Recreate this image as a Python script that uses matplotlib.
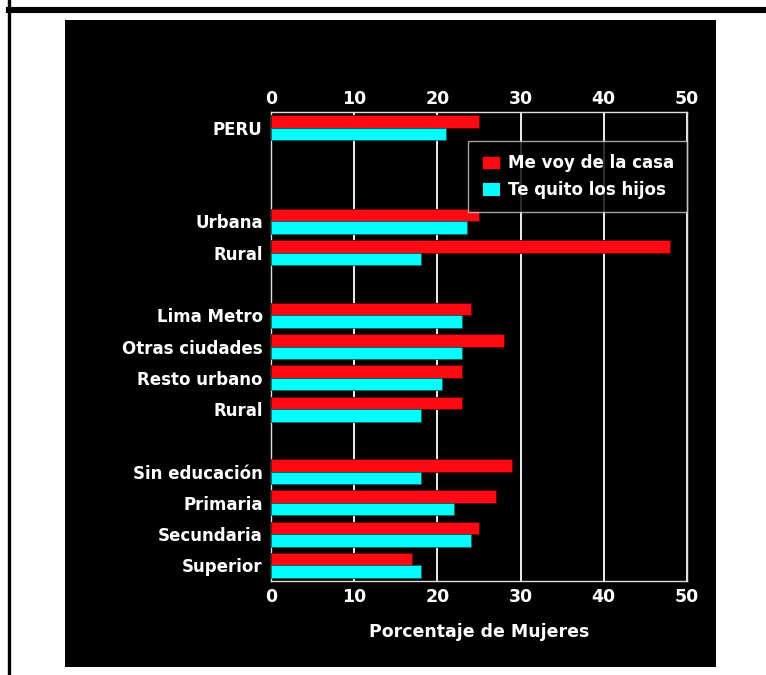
import numpy as np
import matplotlib.pyplot as plt
from matplotlib.patches import Rectangle
from matplotlib.lines import Line2D

# Data
categories = ["PERU", "", "", "Urbana", "Rural", "",
              "Lima Metro", "Otras ciudades", "Resto urbano", "Rural", "",
              "Sin educación", "Primaria", "Secundaria", "Superior"]
me_voy = [25, None, None, 25, 48, None, 24, 28, 23, 23, None, 29, 27, 25, 17]
te_quito = [21, None, None, 23.5, 18, None, 23, 23, 20.5, 18, None, 18, 22, 24, 18]
series_names = ["Me voy de la casa", "Te quito los hijos"]
colors = ["#ff0a14", "#00ffff"]
xticks = [0, 10, 20, 30, 40, 50]

# wide bold face to get close to the stretched Helvetica of the original
plt.rcParams['font.family'] = ['DejaVu Sans']

fig = plt.figure(figsize=(7.66, 6.75), dpi=100)
fig.patch.set_facecolor("white")

W, H = 766, 675
# black panel
fig.patches.append(Rectangle((65 / W, 1 - 667 / H), 651 / W, 647 / H,
                             transform=fig.transFigure, facecolor="black",
                             edgecolor="none", zorder=-5))
# frame lines
fig.add_artist(Line2D([8.5 / W, 8.5 / W], [0, 1], transform=fig.transFigure,
                      color="black", linewidth=2.4))
fig.add_artist(Line2D([8.5 / W, 1], [1 - 9.8 / H, 1 - 9.8 / H],
                      transform=fig.transFigure, color="black", linewidth=4.4))

ax = fig.add_axes([271 / W, 1 - 581 / H, 416 / W, 469 / H])
ax.set_zorder(5)
ax.set_facecolor("black")

y = np.arange(len(categories))
bh = 0.4
for i in range(len(categories)):
    if me_voy[i] is not None:
        ax.barh(y[i] - bh / 2, me_voy[i], height=bh, color=colors[0],
                edgecolor="#600000", linewidth=0.6, zorder=3)
        ax.barh(y[i] + bh / 2, te_quito[i], height=bh, color=colors[1],
                edgecolor="#006060", linewidth=0.6, zorder=3)

ax.set_xlim(0, 50)
ax.set_ylim(len(categories) - 0.5, -0.5)
ax.set_xticks(xticks)
ax.set_xticklabels([str(t) for t in xticks])
ax.set_yticks(y)
ax.set_yticklabels(categories)

ax.tick_params(axis="x", length=0, pad=5, colors="white", labelsize=12.5)
ax.tick_params(axis="y", length=0, pad=6, colors="white", labelsize=12)
for lab in ax.get_xticklabels() + ax.get_yticklabels():
    lab.set_fontweight("bold")

# top scale
top = ax.secondary_xaxis("top")
top.set_xticks(xticks)
top.set_xticklabels([str(t) for t in xticks], fontweight="bold")
top.tick_params(length=0, pad=3, colors="white", labelsize=12.5)
top.spines["top"].set_visible(False)

ax.grid(axis="x", color="white", linewidth=1.3, zorder=1)
for s in ax.spines.values():
    s.set_color("#dddddd")
    s.set_linewidth(1.0)

ax.set_xlabel("Porcentaje de Mujeres", color="white", fontsize=12.5,
              fontweight="bold", labelpad=12)

handles = [Rectangle((0, 0), 1, 1, facecolor=c, edgecolor="#300000", linewidth=0.6)
           for c in colors]
leg = ax.legend(handles, series_names, loc="upper right",
                bbox_to_anchor=(1.0, 1 - 29 / 469), borderaxespad=0,
                frameon=True, fancybox=False, facecolor="black",
                edgecolor="#cccccc", handlelength=1.1, handleheight=0.85,
                handletextpad=0.45, borderpad=0.8, labelspacing=0.5,
                prop={"weight": "bold", "size": 12})
leg.get_frame().set_linewidth(1.0)
leg.set_zorder(5)
for t in leg.get_texts():
    t.set_color("white")

fig.savefig("out.png", dpi=100, facecolor="white")
